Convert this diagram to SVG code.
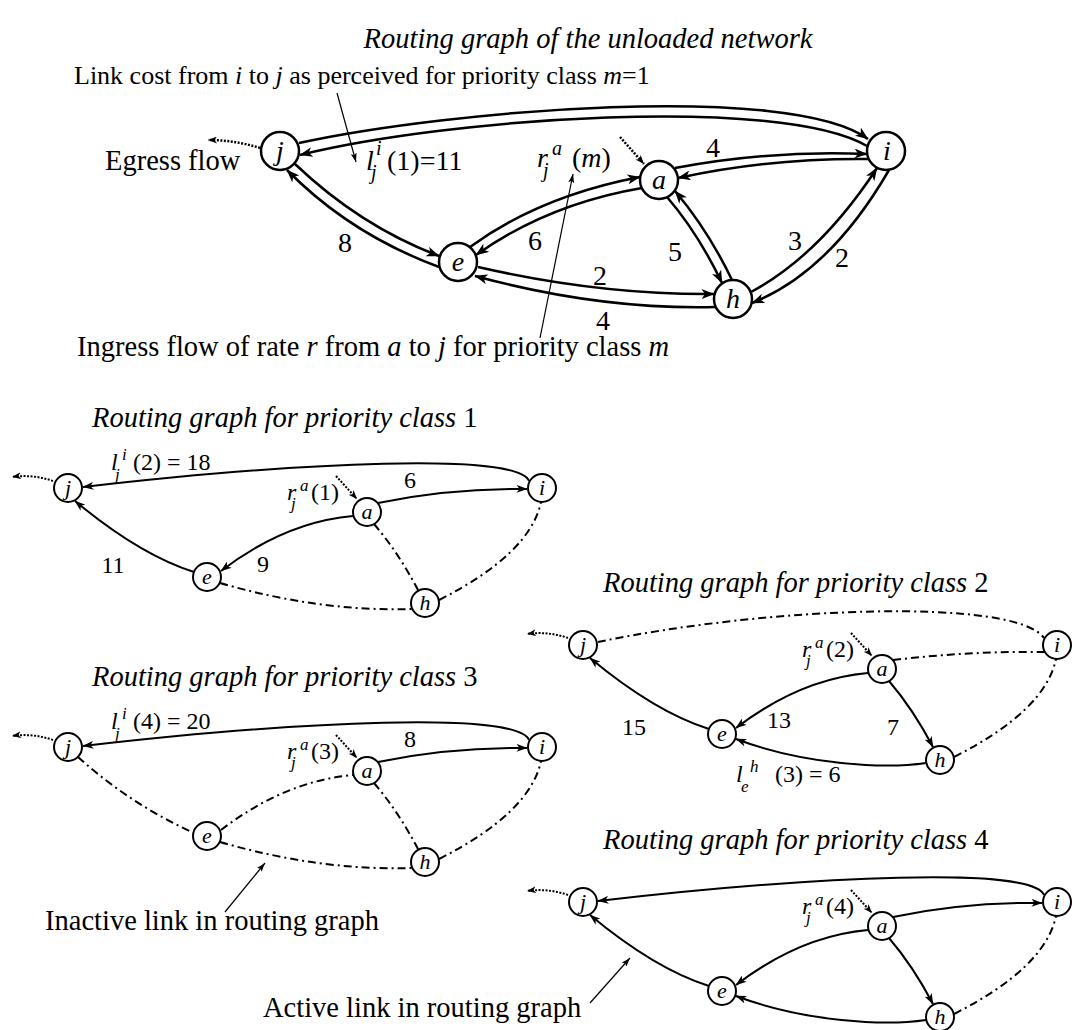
<svg xmlns="http://www.w3.org/2000/svg" width="1076" height="1030" viewBox="0 0 1076 1030">
<defs>
<style>
text{font-family:"Liberation Serif","Times New Roman",serif;fill:#000}
.it{font-style:italic}
.up{font-style:normal}
.t{font-size:28.5px;font-style:italic}
.lb{font-size:28.5px}
.ml{font-size:28px}
.sl{font-size:24px}
.ss{font-size:17px;font-style:italic}
.ms{font-size:20px;font-style:italic}
.nt{font-size:28px;font-style:italic;text-anchor:middle}
.snt{font-size:22px;font-style:italic;text-anchor:middle}
.mid{text-anchor:middle}
.n circle{fill:#fff;stroke:#000;stroke-width:2.5}
.sn circle{fill:#fff;stroke:#000;stroke-width:2}
.e{fill:none;stroke:#000;stroke-width:2.5}
.se{fill:none;stroke:#000;stroke-width:2}
.dd{stroke-dasharray:8 4 2 4}
.dot{fill:none;stroke:#000;stroke-width:2.5;stroke-dasharray:2 1.5}
.sdot{fill:none;stroke:#000;stroke-width:2;stroke-dasharray:2 1.5}
.ann{fill:none;stroke:#000;stroke-width:1.2}
</style>
<marker id="am" markerUnits="userSpaceOnUse" markerWidth="14" markerHeight="10" refX="12.5" refY="5" orient="auto"><path d="M0,0 L13,5 L0,10 L3.5,5 z" fill="#000"/></marker>
<marker id="as" markerUnits="userSpaceOnUse" markerWidth="12" markerHeight="8" refX="10.5" refY="4" orient="auto"><path d="M0,0 L11,4 L0,8 L3,4 z" fill="#000"/></marker>
<marker id="aa" markerUnits="userSpaceOnUse" markerWidth="10" markerHeight="6" refX="9" refY="3" orient="auto"><path d="M0,0 L9,3 L0,6 L2,3 z" fill="#000"/></marker>
<marker id="ad" markerUnits="userSpaceOnUse" markerWidth="10" markerHeight="7" refX="9" refY="3.5" orient="auto"><path d="M0,0 L9,3.5 L0,7 L2.5,3.5 z" fill="#000"/></marker>
</defs>
<rect width="1076" height="1030" fill="#fff"/>

<!-- Main graph -->
<text class="t" x="588" y="48" text-anchor="middle">Routing graph of the unloaded network</text>
<text class="lb" x="74" y="84" style="font-size:26px">Link cost from <tspan class="it">i</tspan> to <tspan class="it">j</tspan> as perceived for priority class <tspan class="it">m</tspan>=1</text>
<text class="lb" x="105" y="170">Egress flow</text>
<text class="lb" x="77" y="356">Ingress flow of rate <tspan class="it">r</tspan> from <tspan class="it">a</tspan> to <tspan class="it">j</tspan> for priority class <tspan class="it">m</tspan></text>

<g id="main-connectors">
<path class="e" d="M299,143 C450,110 790,82 868,139" marker-end="url(#am)"/>
<path class="e" d="M867,146 C780,95 450,118 300,155" marker-end="url(#am)"/>
<path class="e" d="M439,267 Q350,234 287,170" marker-end="url(#am)"/>
<path class="e" d="M295,164 Q360,226 439,256" marker-end="url(#am)"/>
<path class="e" d="M470,247 Q540,196 640,177" marker-end="url(#am)"/>
<path class="e" d="M642,188 Q548,204 476,255" marker-end="url(#am)"/>
<path class="e" d="M675,168 Q770,150 867,154" marker-end="url(#am)"/>
<path class="e" d="M868,159 Q770,158 678,178" marker-end="url(#am)"/>
<path class="e" d="M667,197 Q698,233 722,283" marker-end="url(#am)"/>
<path class="e" d="M732,280 Q708,230 675,191" marker-end="url(#am)"/>
<path class="e" d="M751,292 Q820,255 877,168" marker-end="url(#am)"/>
<path class="e" d="M889,170 Q830,272 752,303" marker-end="url(#am)"/>
<path class="e" d="M478,267 Q600,295 714,294" marker-end="url(#am)"/>
<path class="e" d="M716,307 Q600,310 475,276" marker-end="url(#am)"/>
<path class="dot" d="M260,148 Q235,140 208,140" marker-end="url(#ad)"/>
<path class="dot" d="M620,137 L644,164" marker-end="url(#ad)"/>
<path class="ann" d="M337,93 L356,162" marker-end="url(#aa)"/>
<path class="ann" d="M540,338 L573,174" marker-end="url(#aa)"/>
</g>
<g id="main-labels">
<text class="ml mid" x="345" y="252">8</text>
<text class="ml mid" x="535" y="250">6</text>
<text class="ml mid" x="675" y="261">5</text>
<text class="ml mid" x="713" y="157">4</text>
<text class="ml mid" x="795" y="250">3</text>
<text class="ml mid" x="842" y="267">2</text>
<text class="ml mid" x="600" y="285">2</text>
<text class="ml mid" x="603" y="330">4</text>
<text class="ml it" x="366" y="170">l<tspan class="ms" x="376" y="155">i</tspan><tspan class="ms" x="371" y="179">j</tspan><tspan class="up" x="387" y="170">(1)=11</tspan></text>
<text class="ml it" x="537" y="167">r<tspan class="ms" x="552" y="155">a</tspan><tspan class="ms" x="543" y="177">j</tspan><tspan class="up" x="572" y="167">(<tspan class="it">m</tspan>)</tspan></text>
</g>
<g id="main-nodes">
<g id="n-j" class="n"><circle cx="280" cy="151" r="19"/><text class="nt" x="280" y="160">j</text></g>
<g id="n-a" class="n"><circle cx="659" cy="180" r="19"/><text class="nt" x="659" y="189">a</text></g>
<g id="n-i" class="n"><circle cx="886" cy="151" r="19"/><text class="nt" x="887" y="160">i</text></g>
<g id="n-e" class="n"><circle cx="458" cy="262" r="19"/><text class="nt" x="458" y="271">e</text></g>
<g id="n-h" class="n"><circle cx="733" cy="299" r="19"/><text class="nt" x="733" y="308">h</text></g>
</g>

<!-- Class 1 -->
<text class="t" x="92" y="427">Routing graph for priority class <tspan class="up">1</tspan></text>
<g id="class1">
<g id="c1-connectors">
<path class="se" d="M529,481 C518,452 300,462 83,487" marker-end="url(#as)"/>
<path class="se" d="M378,503 Q450,488 527,489" marker-end="url(#as)"/>
<path class="se" d="M353,516 Q285,522 221,571" marker-end="url(#as)"/>
<path class="se" d="M194,572 Q140,555 75,501" marker-end="url(#as)"/>
<path class="se dd" d="M374,524 Q398,552 418,590"/>
<path class="se dd" d="M220,583 Q320,612 412,609"/>
<path class="se dd" d="M439,600 Q530,554 541,502"/>
<path class="sdot" d="M53,481 Q33,474 12,477" marker-end="url(#ad)"/>
<path class="sdot" d="M336,476 L357,499" marker-end="url(#ad)"/>
</g>
<text class="sl it" x="111" y="470">l<tspan class="ss" x="122" y="460">i</tspan><tspan class="ss" x="115" y="480">j</tspan><tspan class="up" x="133" y="470">(2) = 18</tspan></text>
<text class="sl mid" x="410" y="488">6</text>
<text class="sl mid" x="263" y="572">9</text>
<text class="sl mid" x="113" y="573">11</text>
<text class="sl it" x="287" y="500">r<tspan class="ss" x="300" y="491">a</tspan><tspan class="ss" x="291" y="509">j</tspan><tspan class="up" x="311" y="500">(1)</tspan></text>
<g id="c1-j" class="sn"><circle cx="68" cy="488" r="14"/><text class="snt" x="68" y="495">j</text></g>
<g id="c1-a" class="sn"><circle cx="367" cy="512" r="14"/><text class="snt" x="367" y="519">a</text></g>
<g id="c1-e" class="sn"><circle cx="207" cy="577" r="14"/><text class="snt" x="207" y="584">e</text></g>
<g id="c1-h" class="sn"><circle cx="425" cy="603" r="14"/><text class="snt" x="425" y="610">h</text></g>
<g id="c1-i" class="sn"><circle cx="542" cy="488" r="14"/><text class="snt" x="542" y="495">i</text></g>
</g>

<!-- Class 2 -->
<text class="t" x="603" y="592">Routing graph for priority class <tspan class="up">2</tspan></text>
<g id="class2" transform="translate(515,157)">
<g id="c2-connectors">
<path class="se dd" d="M83,485 C250,450 500,440 529,481"/>
<path class="se dd" d="M378,503 Q455,494 529,495"/>
<path class="se" d="M353,516 Q285,522 221,571" marker-end="url(#as)"/>
<path class="se" d="M374,524 Q398,552 418,590" marker-end="url(#as)"/>
<path class="se" d="M411,606 C370,612 290,608 221,582" marker-end="url(#as)"/>
<path class="se" d="M194,572 Q140,555 75,501" marker-end="url(#as)"/>
<path class="se dd" d="M439,600 Q530,554 541,502"/>
<path class="sdot" d="M53,481 Q33,474 12,477" marker-end="url(#ad)"/>
<path class="sdot" d="M336,476 L357,499" marker-end="url(#ad)"/>
</g>
<text class="sl mid" x="264" y="571">13</text>
<text class="sl mid" x="378" y="578">7</text>
<text class="sl mid" x="119" y="578">15</text>
<text class="sl it" x="221" y="625">l<tspan class="ss" x="235" y="615">h</tspan><tspan class="ss" x="226" y="635">e</tspan><tspan class="up" x="260" y="625">(3) = 6</tspan></text>
<text class="sl it" x="287" y="500">r<tspan class="ss" x="300" y="491">a</tspan><tspan class="ss" x="291" y="509">j</tspan><tspan class="up" x="311" y="500">(2)</tspan></text>
<g id="c2-j" class="sn"><circle cx="68" cy="488" r="14"/><text class="snt" x="68" y="495">j</text></g>
<g id="c2-a" class="sn"><circle cx="367" cy="512" r="14"/><text class="snt" x="367" y="519">a</text></g>
<g id="c2-e" class="sn"><circle cx="207" cy="577" r="14"/><text class="snt" x="207" y="584">e</text></g>
<g id="c2-h" class="sn"><circle cx="425" cy="603" r="14"/><text class="snt" x="425" y="610">h</text></g>
<g id="c2-i" class="sn"><circle cx="542" cy="488" r="14"/><text class="snt" x="542" y="495">i</text></g>
</g>

<!-- Class 3 -->
<text class="t" x="92" y="686">Routing graph for priority class <tspan class="up">3</tspan></text>
<g id="class3" transform="translate(0,259)">
<g id="c3-connectors">
<path class="se" d="M529,481 C518,452 300,462 83,487" marker-end="url(#as)"/>
<path class="se" d="M378,503 Q450,488 527,489" marker-end="url(#as)"/>
<path class="se dd" d="M78,498 Q130,545 194,574"/>
<path class="se dd" d="M221,571 Q285,522 353,516"/>
<path class="se dd" d="M374,524 Q398,552 418,590"/>
<path class="se dd" d="M220,583 Q320,612 412,609"/>
<path class="se dd" d="M439,600 Q530,554 541,502"/>
<path class="sdot" d="M53,481 Q33,474 12,477" marker-end="url(#ad)"/>
<path class="sdot" d="M336,476 L357,499" marker-end="url(#ad)"/>
</g>
<text class="sl it" x="111" y="470">l<tspan class="ss" x="122" y="460">i</tspan><tspan class="ss" x="115" y="480">j</tspan><tspan class="up" x="133" y="470">(4) = 20</tspan></text>
<text class="sl mid" x="410" y="488">8</text>
<text class="sl it" x="287" y="500">r<tspan class="ss" x="300" y="491">a</tspan><tspan class="ss" x="291" y="509">j</tspan><tspan class="up" x="311" y="500">(3)</tspan></text>
<g id="c3-j" class="sn"><circle cx="68" cy="488" r="14"/><text class="snt" x="68" y="495">j</text></g>
<g id="c3-a" class="sn"><circle cx="367" cy="512" r="14"/><text class="snt" x="367" y="519">a</text></g>
<g id="c3-e" class="sn"><circle cx="207" cy="577" r="14"/><text class="snt" x="207" y="584">e</text></g>
<g id="c3-h" class="sn"><circle cx="425" cy="603" r="14"/><text class="snt" x="425" y="610">h</text></g>
<g id="c3-i" class="sn"><circle cx="542" cy="488" r="14"/><text class="snt" x="542" y="495">i</text></g>
</g>

<!-- Class 4 -->
<text class="t" x="603" y="849">Routing graph for priority class <tspan class="up">4</tspan></text>
<g id="class4" transform="translate(515,414)">
<g id="c4-connectors">
<path class="se" d="M529,481 C518,452 300,462 83,487" marker-end="url(#as)"/>
<path class="se" d="M378,503 Q450,488 527,489" marker-end="url(#as)"/>
<path class="se" d="M353,516 Q285,522 221,571" marker-end="url(#as)"/>
<path class="se" d="M374,524 Q398,552 418,590" marker-end="url(#as)"/>
<path class="se" d="M411,606 C370,612 290,608 221,582" marker-end="url(#as)"/>
<path class="se" d="M194,572 Q140,555 75,501" marker-end="url(#as)"/>
<path class="se dd" d="M439,600 Q530,554 541,502"/>
<path class="sdot" d="M53,481 Q33,474 12,477" marker-end="url(#ad)"/>
<path class="sdot" d="M336,476 L357,499" marker-end="url(#ad)"/>
</g>
<text class="sl it" x="287" y="500">r<tspan class="ss" x="300" y="491">a</tspan><tspan class="ss" x="291" y="509">j</tspan><tspan class="up" x="311" y="500">(4)</tspan></text>
<g id="c4-j" class="sn"><circle cx="68" cy="488" r="14"/><text class="snt" x="68" y="495">j</text></g>
<g id="c4-a" class="sn"><circle cx="367" cy="512" r="14"/><text class="snt" x="367" y="519">a</text></g>
<g id="c4-e" class="sn"><circle cx="207" cy="577" r="14"/><text class="snt" x="207" y="584">e</text></g>
<g id="c4-h" class="sn"><circle cx="425" cy="603" r="14"/><text class="snt" x="425" y="610">h</text></g>
<g id="c4-i" class="sn"><circle cx="542" cy="488" r="14"/><text class="snt" x="542" y="495">i</text></g>
</g>

<!-- Legend annotations -->
<g id="legend-connectors">
<path class="ann" d="M225,912 L265,863" marker-end="url(#aa)"/>
<path class="ann" d="M590,1003 L630,958" marker-end="url(#aa)"/>
</g>
<text class="lb" x="45" y="930">Inactive link in routing graph</text>
<text class="lb" x="263" y="1017">Active link in routing graph</text>
</svg>
